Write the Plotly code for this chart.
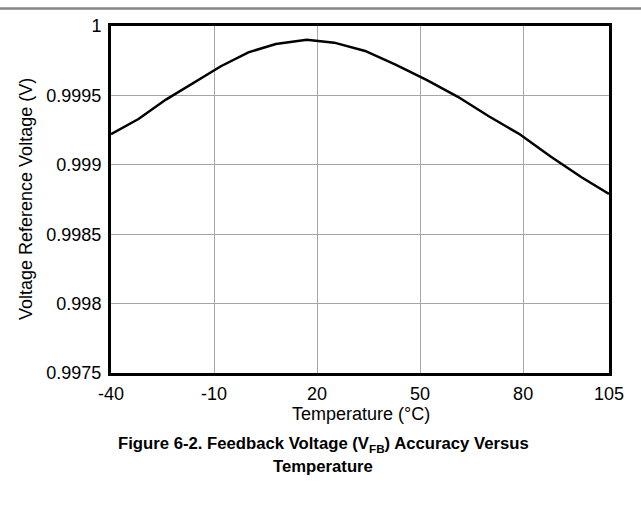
import plotly.graph_objects as go

temperature_c = [-40, -32, -24, -16, -8, 0, 8, 17, 25, 34, 43, 52, 61, 70, 79, 88, 97, 105]
vref_v = [0.99922, 0.99933, 0.99947, 0.99959, 0.99971, 0.99981, 0.99987, 0.99990, 0.99988,
          0.99982, 0.99972, 0.99961, 0.99949, 0.99935, 0.99922, 0.99906, 0.99891, 0.99879]

x_ticks = [-40, -10, 20, 50, 80, 105]
y_ticks = [0.9975, 0.998, 0.9985, 0.999, 0.9995, 1.0]
y_tick_text = ["0.9975", "0.998", "0.9985", "0.999", "0.9995", "1"]

FONT = "Liberation Sans, Arial, sans-serif"

fig = go.Figure()
fig.add_trace(go.Scatter(x=temperature_c, y=vref_v, mode="lines",
                         line=dict(color="black", width=2.5), showlegend=False,
                         hoverinfo="skip"))

L, R, T, B = 111, 32, 26, 133
W, H = 641, 506
pw = W - L - R
ph = H - T - B

def px_x(px):
    return (px - L) / pw

def px_y(py):
    return (H - B - py) / ph

fig.update_layout(
    width=W, height=H,
    margin=dict(l=L, r=R, t=T, b=B, pad=0),
    paper_bgcolor="white", plot_bgcolor="white",
    font=dict(family=FONT, size=18, color="black"),
    xaxis=dict(range=[-40, 105], tickvals=x_ticks, ticktext=[str(v) for v in x_ticks],
               showgrid=True, gridcolor="#a6a6a6", gridwidth=1,
               showline=True, linecolor="black", linewidth=3, mirror=True,
               ticks="", zeroline=False, ticklabelstandoff=2,
               tickfont=dict(size=18)),
    yaxis=dict(range=[0.9975, 1.0], tickvals=y_ticks, ticktext=y_tick_text,
               showgrid=True, gridcolor="#a6a6a6", gridwidth=1,
               showline=True, linecolor="black", linewidth=3, mirror=True,
               ticks="", zeroline=False, ticklabelstandoff=3,
               tickfont=dict(size=18)),
    shapes=[dict(type="line", xref="paper", yref="paper",
                 x0=px_x(-5), x1=px_x(W + 5), y0=px_y(8.5), y1=px_y(8.5),
                 line=dict(color="#858585", width=2.5))],
    annotations=[
        dict(text="Temperature (°C)", xref="paper", yref="paper",
             x=px_x(361), y=px_y(414), xanchor="center", yanchor="middle",
             showarrow=False, font=dict(size=18)),
        dict(text="Voltage Reference Voltage (V)", xref="paper", yref="paper",
             x=px_x(26), y=px_y(199), xanchor="center", yanchor="middle",
             textangle=-90, showarrow=False, font=dict(size=18)),
        dict(text="<b>Figure 6-2. Feedback Voltage (V<sub>FB</sub>) Accuracy Versus</b>",
             xref="paper", yref="paper", x=px_x(323), y=px_y(444),
             xanchor="center", yanchor="middle", showarrow=False,
             font=dict(size=16.7)),
        dict(text="<b>Temperature</b>", xref="paper", yref="paper",
             x=px_x(323), y=px_y(467), xanchor="center", yanchor="middle",
             showarrow=False, font=dict(size=16.7)),
    ],
)

fig.write_html("out.html", config={"displayModeBar": False},
               post_script="document.body.style.margin='0';document.body.style.overflow='hidden';")
